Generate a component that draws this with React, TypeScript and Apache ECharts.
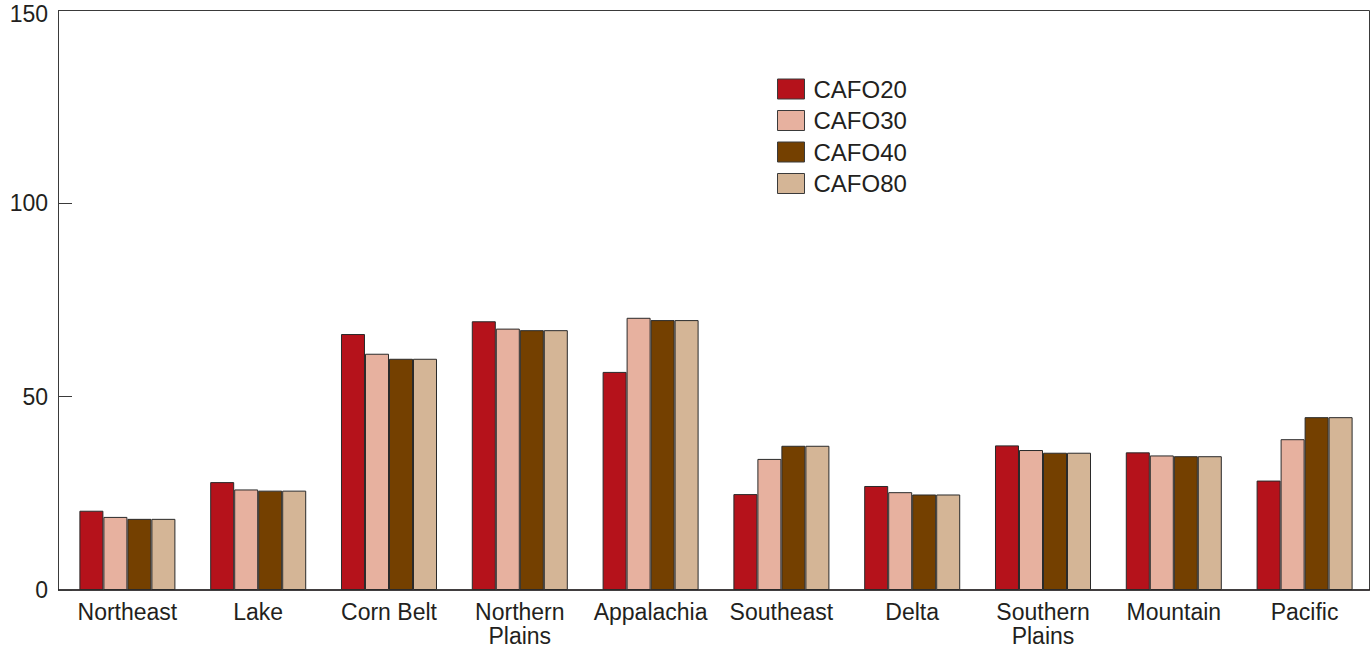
import React, { useEffect, useRef } from "react";
import * as echarts from "echarts";

const categories = [
  "Northeast",
  "Lake",
  "Corn Belt",
  "Northern\nPlains",
  "Appalachia",
  "Southeast",
  "Delta",
  "Southern\nPlains",
  "Mountain",
  "Pacific",
];

const cafo20 = [20.5, 27.9, 66.2, 69.5, 56.4, 24.8, 26.9, 37.4, 35.6, 28.3];
const cafo30 = [18.9, 26.0, 61.1, 67.6, 70.4, 33.9, 25.3, 36.2, 34.8, 39.0];
const cafo40 = [18.4, 25.7, 59.8, 67.2, 69.8, 37.3, 24.7, 35.5, 34.6, 44.7];
const cafo80 = [18.4, 25.7, 59.8, 67.2, 69.8, 37.3, 24.7, 35.5, 34.6, 44.7];

const seriesNames = ["CAFO20", "CAFO30", "CAFO40", "CAFO80"];
const seriesColors = ["#b5121b", "#e7b19f", "#744000", "#d4b596"];
const yTicks = [0, 50, 100, 150];

const FONT = "'Liberation Sans', Arial, Helvetica, sans-serif";
const TEXT = "#231f20";
const LINE = "#3a3a3a";

export default function App() {
  const ref = useRef<HTMLDivElement>(null);

  useEffect(() => {
    if (!ref.current) return;
    const chart = echarts.init(ref.current, undefined, { renderer: "svg" });
    const data = [cafo20, cafo30, cafo40, cafo80];
    chart.setOption({
      animation: false,
      backgroundColor: "#ffffff",
      textStyle: { fontFamily: FONT },
      grid: {
        left: 62,
        right: 2,
        top: 10,
        bottom: 59,
        show: false,
        containLabel: false,
        outerBoundsMode: "none",
      },
      graphic: [
        {
          type: "rect",
          z: 0,
          shape: { x: 58.5, y: 10.5, width: 1311, height: 579.5 },
          style: { fill: "none", stroke: LINE, lineWidth: 1 },
          silent: true,
        },
        {
          type: "line",
          z: 0,
          shape: { x1: 58, y1: 590, x2: 1370, y2: 590 },
          style: { stroke: TEXT, lineWidth: 1.5 },
          silent: true,
        },
      ],
      legend: {
        orient: "vertical",
        left: 772,
        top: 72,
        itemWidth: 27,
        itemHeight: 20,
        itemGap: 7.5,
        icon: "rect",
        data: seriesNames,
        textStyle: { fontFamily: FONT, fontSize: 24, color: TEXT, padding: [0, 0, 0, 4] },
        itemStyle: { borderColor: LINE, borderWidth: 1 },
      },
      xAxis: {
        type: "category",
        data: categories,
        axisLine: { show: false },
        axisTick: { show: false },
        axisLabel: {
          interval: 0,
          margin: 10,
          fontFamily: FONT,
          fontSize: 23,
          color: TEXT,
          lineHeight: 24,
        },
      },
      yAxis: {
        type: "value",
        min: 0,
        max: 150,
        interval: 50,
        offset: 4,
        splitLine: { show: false },
        axisLine: { show: false },
        axisTick: { show: true, inside: true, length: 14, lineStyle: { color: LINE } },
        axisLabel: {
          margin: 10,
          fontFamily: FONT,
          fontSize: 23,
          color: TEXT,
          formatter: (v: number) =>
            yTicks.includes(v) ? (v === 150 ? "{t|" + v + "}" : String(v)) : "",
          rich: {
            t: { fontFamily: FONT, fontSize: 23, color: TEXT, padding: [7, 0, 0, 0] },
          },
        },
      },
      series: seriesNames.map((name, i) => ({
        name,
        type: "bar",
        data: data[i],
        barGap: "0%",
        barCategoryGap: "26.6%",
        itemStyle: { color: seriesColors[i], borderColor: "#2a2a2a", borderWidth: 1 },
      })),
    });
    return () => chart.dispose();
  }, []);

  return <div ref={ref} style={{ width: 1372, height: 649, position: "absolute", left: 0, top: 0 }} />;
}
